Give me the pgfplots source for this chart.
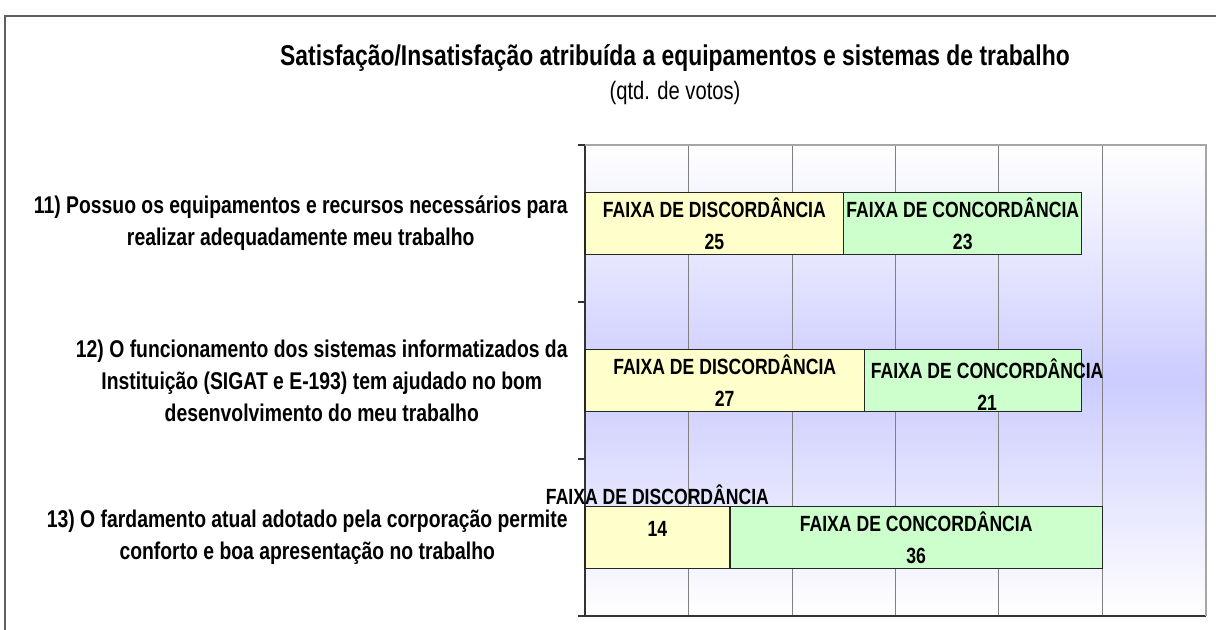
\documentclass[border=0pt]{standalone}
\usepackage{pgfplots}
\pgfplotsset{compat=1.18}
\usepackage{fontspec}
\setmainfont{Liberation Sans}[FakeStretch=0.8]
\definecolor{lav}{RGB}{204,204,255}
\definecolor{disc}{RGB}{255,255,204}
\definecolor{conc}{RGB}{204,255,204}
\definecolor{gridc}{RGB}{128,128,128}
\begin{document}
\begin{tikzpicture}
  % page = 1216 x 630 px, 1 px = 0.5pt
  \path[use as bounding box] (0pt,0pt) rectangle (608pt,-315pt);
  \draw[gray!75!black, line width=1.2pt] (2.5pt,-315pt) -- (2.5pt,-8pt) -- (608pt,-8pt);
  \node[font=\bfseries\fontsize{14.3}{16}\selectfont] at (337.5pt,-29pt)
    {Satisfação/Insatisfação atribuída a equipamentos e sistemas de trabalho};
  \node[font=\fontsize{12.6}{14}\selectfont] at (337.5pt,-46.5pt) {(qtd. de votos)};
  \begin{axis}[
      at={(292.5pt,-308pt)}, anchor=south west,
      width=310.5pt, height=235.5pt, scale only axis,
      xbar stacked, bar width=0.395,
      xmin=0, xmax=60, ymin=0.5, ymax=3.5, y dir=reverse,
      xtick={10,20,30,40,50}, xticklabels={}, xmajorgrids,
      grid style={gridc, line width=0.5pt},
      xtick style={draw=none}, ytick={1,2,3}, yticklabels={}, ytick style={draw=none},
      axis line style={draw=none},
      axis background/.style={top color=white, bottom color=white, middle color=lav},
      clip=false,
    ]
    \addplot[fill=disc, draw=black!85, line width=0.6pt] coordinates {(25,1) (27,2) (14,3)};
    \addplot[fill=conc, draw=black!85, line width=0.6pt] coordinates {(23,1) (21,2) (36,3)};
    % frame of the plot area
    \draw[gray!70, line width=0.6pt] (rel axis cs:0,1) -- (rel axis cs:1,1) -- (rel axis cs:1,0);
    \draw[black!80, line width=0.7pt] (rel axis cs:0,1) -- (rel axis cs:0,0) -- (rel axis cs:1,0);
    \pgfplotsinvokeforeach{0.5,1.5,2.5,3.5}{\draw[black!80, line width=0.6pt] (axis cs:0,#1) -- ([xshift=-3.5pt]axis cs:0,#1);}
    % anchors for the texts, typeset after the axis
    \coordinate (c1) at (axis cs:0,1);
    \coordinate (c2) at (axis cs:0,2);
    \coordinate (c3) at (axis cs:0,3);
    \coordinate (d1) at (axis cs:12.5,1);
    \coordinate (g1) at (axis cs:36.5,1);
    \coordinate (d2) at (axis cs:13.5,2);
    \coordinate (g2) at (axis cs:37.5,2);
    \coordinate (d3) at (axis cs:7,3);
    \coordinate (g3) at (axis cs:32,3);
  \end{axis}
  \tikzset{
    cat/.style={align=center, anchor=east, inner sep=0pt, font=\bfseries\fontsize{12.1}{16}\selectfont},
    seg/.style={align=center, font=\bfseries\fontsize{11}{16}\selectfont}}
  \node[cat, xshift=-8.5pt] at (c1) {11) Possuo os equipamentos e recursos necessários para\\realizar adequadamente meu trabalho};
  \node[cat, xshift=-8.5pt] at (c2) {12) O funcionamento dos sistemas informatizados da\\Instituição (SIGAT e E-193) tem ajudado no bom\\desenvolvimento do meu trabalho};
  \node[cat, xshift=-8.5pt] at (c3) {13) O fardamento atual adotado pela corporação permite\\conforto e boa apresentação no trabalho};
  \node[seg] at (d1) {FAIXA DE DISCORDÂNCIA\\25};
  \node[seg] at (g1) {FAIXA DE CONCORDÂNCIA\\23};
  \node[seg] at (d2) {FAIXA DE DISCORDÂNCIA\\27};
  \node[seg, xshift=7pt, yshift=-2pt] at (g2) {FAIXA DE CONCORDÂNCIA\\21};
  \node[seg, yshift=13.5pt] at (d3) {FAIXA DE DISCORDÂNCIA\\14};
  \node[seg] at (g3) {FAIXA DE CONCORDÂNCIA\\36};
\end{tikzpicture}
\end{document}
